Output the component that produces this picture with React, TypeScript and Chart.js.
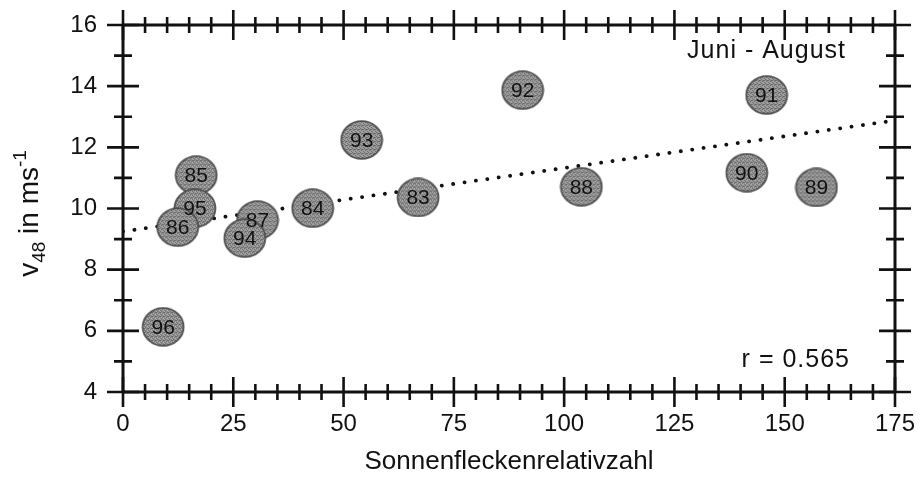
import React, { useEffect, useRef } from "react";
import { Chart, registerables } from "chart.js";

Chart.register(...registerables);

// ---- data ----
const years = ["96", "85", "95", "86", "87", "94", "84", "93", "83", "92", "88", "90", "91", "89"];
const sunspotNumber = [9.1, 16.6, 16.3, 12.4, 30.5, 27.6, 43.0, 54.1, 66.9, 90.6, 103.9, 141.4, 145.9, 157.2];
const v48Speed = [6.13, 11.09, 10.01, 9.39, 9.62, 9.03, 10.01, 12.24, 10.36, 13.87, 10.71, 11.17, 13.71, 10.69];
const fitX = [0, 175];
const fitY = [9.25, 12.88];
const xTickValues = [0, 25, 50, 75, 100, 125, 150, 175];
const yTickValues = [4, 6, 8, 10, 12, 14, 16];
const xMinorStep = 5;
const yMinorStep = 1;
const seasonLabel = "Juni - August";
const corrLabel = "r = 0.565";
const xTitle = "Sonnenfleckenrelativzahl";

const FONT = "'Liberation Sans', Arial, Helvetica, sans-serif";
const INK = "#111111";

function makeMarker(): HTMLCanvasElement {
  const w = 44, h = 40;
  const c = document.createElement("canvas");
  c.width = w; c.height = h;
  const g = c.getContext("2d")!;
  const p = document.createElement("canvas");
  p.width = 4; p.height = 4;
  const pg = p.getContext("2d")!;
  pg.fillStyle = "#959595";
  pg.fillRect(0, 0, 4, 4);
  pg.fillStyle = "#5e5e5e";
  [[0, 0], [2, 1], [1, 2], [3, 3], [3, 1]].forEach(([x, y]) => pg.fillRect(x, y, 1, 1));
  pg.fillStyle = "#c0c0c0";
  [[2, 3], [0, 2], [3, 0]].forEach(([x, y]) => pg.fillRect(x, y, 1, 1));
  const pat = g.createPattern(p, "repeat")!;
  g.beginPath();
  g.ellipse(w / 2, h / 2, 20.5, 18.8, 0, 0, Math.PI * 2);
  g.fillStyle = pat;
  g.fill();
  g.lineWidth = 1.8;
  g.strokeStyle = "rgba(70,70,70,0.9)";
  g.stroke();
  return c;
}

const framePlugin = {
  id: "frame",
  afterDatasetsDraw(chart: any) {
    const ctx = chart.ctx;
    const meta = chart.getDatasetMeta(1);
    ctx.save();
    ctx.fillStyle = INK;
    ctx.font = `21px ${FONT}`;
    ctx.textAlign = "center";
    ctx.textBaseline = "middle";
    meta.data.forEach((pt: any, i: number) => {
      ctx.fillText(years[i], pt.x, pt.y + 1);
    });
    ctx.restore();
  },
  afterDraw(chart: any) {
    const ctx = chart.ctx;
    const { left, right, top, bottom } = chart.chartArea;
    const xs = chart.scales.x;
    const ys = chart.scales.y;
    ctx.save();
    ctx.strokeStyle = INK;
    ctx.lineCap = "butt";
    ctx.lineWidth = 3;
    ctx.beginPath();
    ctx.moveTo(left, top); ctx.lineTo(right, top);
    ctx.moveTo(left, bottom); ctx.lineTo(right, bottom);
    ctx.moveTo(left, top); ctx.lineTo(left, bottom);
    ctx.moveTo(right, top); ctx.lineTo(right, bottom);
    ctx.stroke();
    ctx.lineWidth = 2.6;
    ctx.beginPath();
    for (let v = xs.min; v <= xs.max + 1e-9; v += xMinorStep) {
      const px = xs.getPixelForValue(v);
      const h = xTickValues.includes(v) ? 15 : 8;
      ctx.moveTo(px, bottom - h); ctx.lineTo(px, bottom + h);
      ctx.moveTo(px, top - h); ctx.lineTo(px, top + h);
    }
    for (let v = ys.min; v <= ys.max + 1e-9; v += yMinorStep) {
      const py = ys.getPixelForValue(v);
      const h = yTickValues.includes(v) ? 16 : 9;
      ctx.moveTo(left - h, py); ctx.lineTo(left + h, py);
      ctx.moveTo(right - h, py); ctx.lineTo(right + h, py);
    }
    ctx.stroke();

    ctx.fillStyle = INK;
    ctx.font = `25px ${FONT}`;
    ctx.textAlign = "right";
    ctx.textBaseline = "alphabetic";
    try { (ctx as any).letterSpacing = "1px"; } catch (e) {}
    ctx.fillText(seasonLabel, right - 49, top + 33);
    ctx.fillText(corrLabel, right - 45, bottom - 25);
    try { (ctx as any).letterSpacing = "0px"; } catch (e) {}

    const big = `28px ${FONT}`;
    const small = `19px ${FONT}`;
    const parts: [string, string, number][] = [
      ["v", big, 0],
      ["48", small, 7],
      [" in ms", big, 0],
      ["-1", small, -12],
    ];
    let total = 0;
    parts.forEach(([t, f]) => { ctx.font = f; total += ctx.measureText(t).width; });
    ctx.translate(38, (top + bottom) / 2 + 5);
    ctx.rotate(-Math.PI / 2);
    ctx.textAlign = "left";
    let cx = -total / 2;
    parts.forEach(([t, f, dy]) => {
      ctx.font = f;
      ctx.fillText(t, cx, dy);
      cx += ctx.measureText(t).width;
    });
    ctx.restore();
  },
};

export default function App() {
  const ref = useRef<HTMLCanvasElement>(null);
  useEffect(() => {
    const canvas = ref.current!;
    const marker = makeMarker();
    const chart = new Chart(canvas, {
      type: "scatter",
      data: {
        datasets: [
          {
            type: "line",
            data: fitX.map((x, i) => ({ x, y: fitY[i] })),
            borderColor: INK,
            borderWidth: 3.8,
            borderDash: [0.1, 11.4],
            borderCapStyle: "round",
            pointRadius: 0,
            fill: false,
            tension: 0,
            order: 2,
          } as any,
          {
            type: "scatter",
            data: sunspotNumber.map((x, i) => ({ x, y: v48Speed[i] })),
            pointStyle: marker as any,
            pointRadius: 20,
            pointHoverRadius: 20,
            order: 1,
          } as any,
        ],
      },
      options: {
        animation: false,
        responsive: true,
        maintainAspectRatio: false,
        layout: { padding: { top: 25, right: 28, bottom: 0, left: 0 } },
        plugins: { legend: { display: false }, tooltip: { enabled: false } },
        events: [],
        scales: {
          x: {
            type: "linear",
            min: 0,
            max: 175,
            afterBuildTicks: (s: any) => { s.ticks = xTickValues.map((v) => ({ value: v })); },
            afterFit: (s: any) => {
              s.height = 85;
              s.paddingLeft = 0; s.paddingRight = 0; s.paddingTop = 0; s.paddingBottom = 0;
            },
            grid: { display: false, drawTicks: false },
            border: { display: false },
            ticks: { color: INK, font: { family: FONT, size: 24 }, padding: 18, maxRotation: 0, autoSkip: false },
            title: {
              display: true,
              text: xTitle,
              color: INK,
              font: { family: FONT, size: 26 },
              padding: { top: 0, bottom: 0 },
            },
          },
          y: {
            type: "linear",
            min: 4,
            max: 16,
            afterBuildTicks: (s: any) => { s.ticks = yTickValues.map((v) => ({ value: v })); },
            afterFit: (s: any) => {
              s.width = 123;
              s.paddingLeft = 0; s.paddingRight = 0; s.paddingTop = 0; s.paddingBottom = 0;
            },
            grid: { display: false, drawTicks: false },
            border: { display: false },
            ticks: { color: INK, font: { family: FONT, size: 24 }, padding: 26, autoSkip: false },
          },
        },
      },
      plugins: [framePlugin],
    });
    return () => chart.destroy();
  }, []);
  return (
    <div style={{ position: "absolute", left: 0, top: 0, width: 923, height: 477, background: "#fff" }}>
      <canvas ref={ref} />
    </div>
  );
}
